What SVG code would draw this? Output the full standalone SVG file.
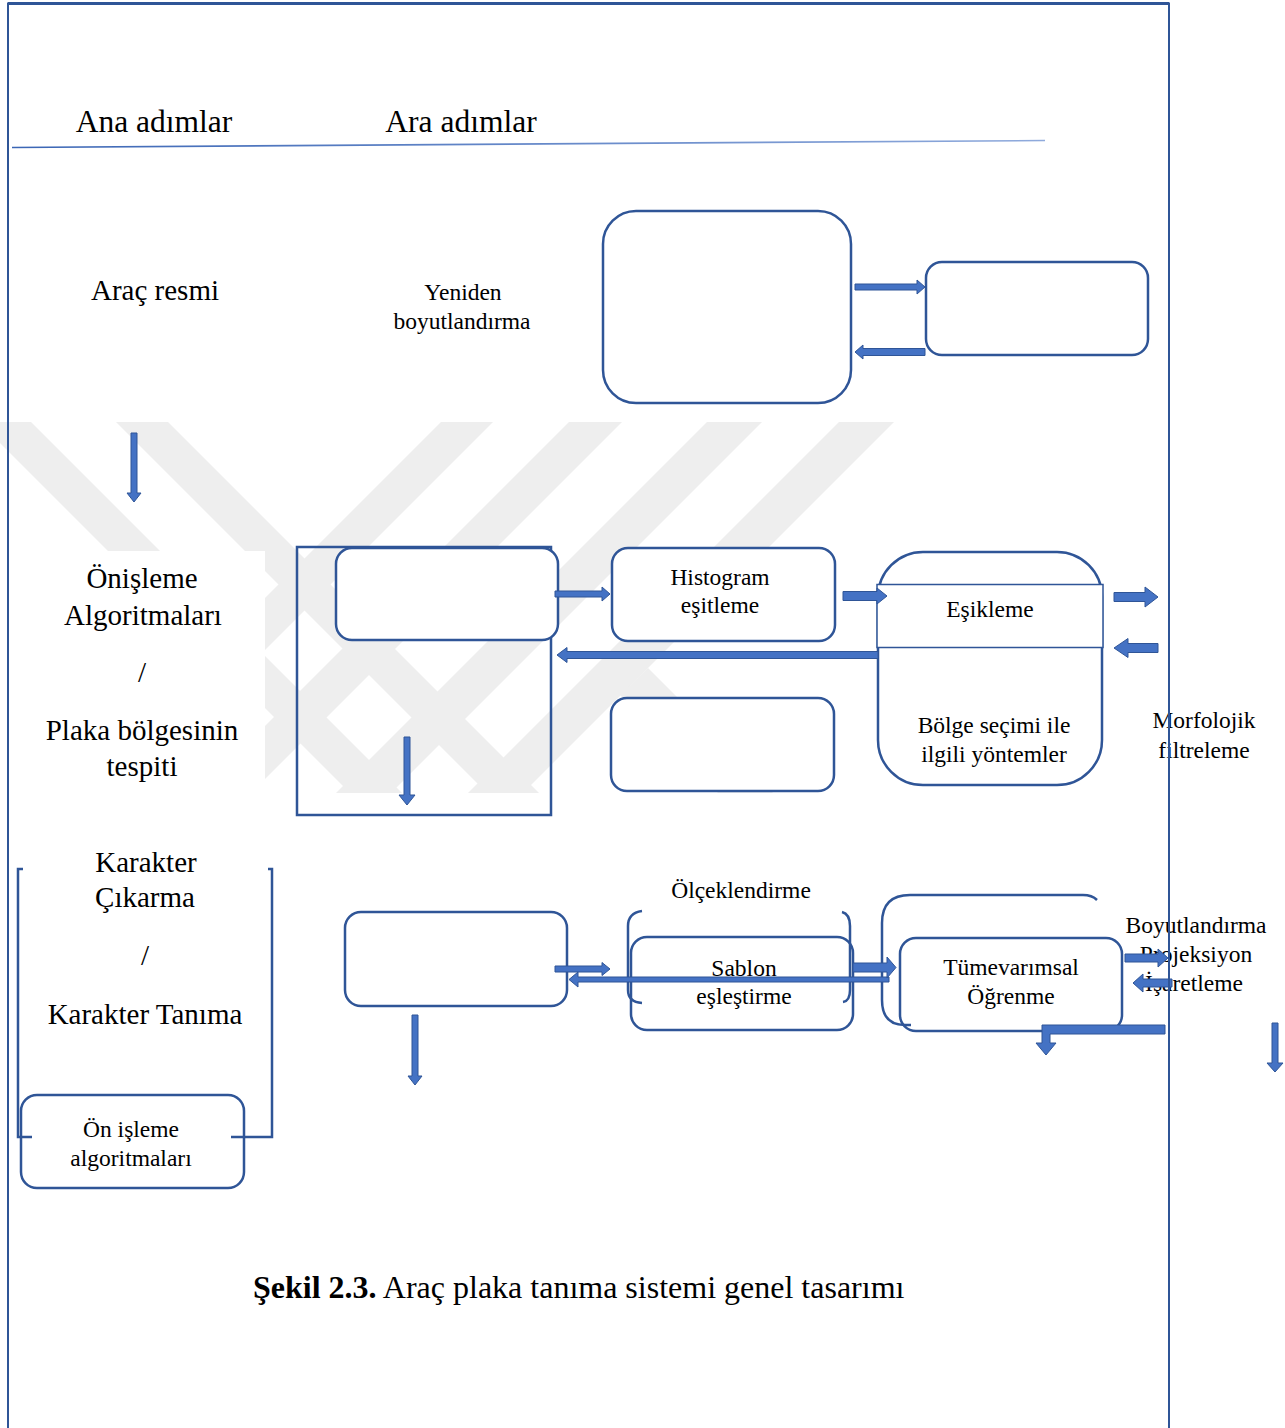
<svg xmlns="http://www.w3.org/2000/svg" width="1285" height="1428" viewBox="0 0 1285 1428">
  <defs>
    <linearGradient id="rule" x1="0" y1="0" x2="1" y2="0">
      <stop offset="0" stop-color="#3B66B5"/>
      <stop offset="1" stop-color="#8FAADC"/>
    </linearGradient>
  </defs>
  <style>
    .t{font-family:"Liberation Serif","Times New Roman",serif;fill:#000;text-anchor:middle}
    .hd{font-size:31.5px}
    .big{font-size:29px}
    .sm{font-size:23.5px}
    .box{fill:#fff;stroke:#2F5597;stroke-width:2.5}
    .ln{fill:none;stroke:#2F5597;stroke-width:2.5}
    .thin{fill:#fff;stroke:#2F5597;stroke-width:1.5}
    .arr{fill:#4472C4;stroke:#2F5597;stroke-width:1}
    .wm{fill:#eeeeee}
  </style>

  <rect x="0" y="0" width="1285" height="1428" fill="#fff"/>

  <!-- light background stripe mark -->
  <g id="stripes" class="wm">
    <polygon points="-21,422 31,422 402,793 350,793"/>
    <polygon points="116,422 168,422 539,793 487,793"/>
    <polygon points="441,422 493,422 122,793 70,793"/>
    <polygon points="569,422 622,422 251,793 198,793"/>
    <polygon points="707,422 762,422 391,793 336,793"/>
    <polygon points="839,422 894,422 523,793 468,793"/>
    <polygon points="648,668 773,793 718,793 620,695"/>
  </g>
  <rect x="10" y="551" width="255" height="242" fill="#fff"/>

  <!-- column headings -->
  <g id="headings">
    <text class="t hd" x="154" y="132">Ana adımlar</text>
    <text class="t hd" x="461" y="132">Ara adımlar</text>
    <line x1="12" y1="147.5" x2="1045" y2="140.5" stroke="url(#rule)" stroke-width="1.6"/>
  </g>

  <!-- main steps -->
  <g id="arac-resmi"><text class="t big" x="155" y="300">Araç resmi</text></g>
  <g id="onisleme">
    <text class="t big" x="142" y="588">Önişleme</text>
    <text class="t big" x="143" y="625">Algoritmaları</text>
    <text class="t big" x="142" y="682">/</text>
    <text class="t big" x="142" y="740">Plaka bölgesinin</text>
    <text class="t big" x="142" y="776">tespiti</text>
  </g>
  <g id="karakter">
    <text class="t big" x="146" y="872">Karakter</text>
    <text class="t big" x="145" y="907">Çıkarma</text>
    <text class="t big" x="145" y="965">/</text>
    <text class="t big" x="145" y="1024">Karakter Tanıma</text>
  </g>

  <!-- resize step -->
  <g id="yeniden-boyutlandirma">
    <text class="t sm" x="463" y="300">Yeniden</text>
    <text class="t sm" x="462" y="329">boyutlandırma</text>
  </g>
  <g id="resize-box"><rect class="box" x="603" y="211" width="248" height="192" rx="33"/></g>
  <g id="resize-side"><rect class="box" x="926" y="262" width="222" height="93" rx="16"/></g>

  <!-- plate detection steps -->
  <g id="plate-frame"><rect class="ln" x="297" y="547" width="254" height="268"/></g>
  <g id="plate-input"><rect class="box" x="336" y="548" width="222" height="92" rx="16"/></g>
  <g id="histogram">
    <rect class="box" x="612" y="548" width="223" height="93" rx="16"/>
    <text class="t sm" x="720" y="585">Histogram</text>
    <text class="t sm" x="720" y="613">eşitleme</text>
  </g>
  <g id="plate-empty"><rect class="box" x="611" y="698" width="223" height="93" rx="16"/></g>
  <g id="esikleme-bolge">
    <rect class="box" x="878" y="552" width="224" height="233" rx="45"/>
    <rect class="thin" x="877" y="584.5" width="226" height="63"/>
    <text class="t sm" x="990" y="617">Eşikleme</text>
    <text class="t sm" x="994" y="733">Bölge seçimi ile</text>
    <text class="t sm" x="994" y="762">ilgili yöntemler</text>
  </g>
  <g id="morfolojik">
    <text class="t sm" x="1204" y="728">Morfolojik</text>
    <text class="t sm" x="1204" y="758">filtreleme</text>
  </g>

  <!-- character steps -->
  <g id="on-isleme">
    <rect class="box" x="21" y="1095" width="223" height="93" rx="16"/>
    <text class="t sm" x="131" y="1137">Ön işleme</text>
    <text class="t sm" x="131" y="1166">algoritmaları</text>
  </g>
  <g id="karakter-bracket">
    <path class="ln" d="M23,869 L18,869 L18,1137 L32,1137"/>
    <path class="ln" d="M268,869 L272,869 L272,1137 L231,1137"/>
  </g>
  <g id="char-input"><rect class="box" x="345" y="912" width="222" height="94" rx="16"/></g>
  <g id="sablon">
    <rect class="box" x="631" y="937" width="222" height="93" rx="16"/>
    <text class="t sm" x="741" y="898">Ölçeklendirme</text>
    <path class="ln" stroke-width="2" d="M642,911 Q628,913 628,926 L628,990 Q628,1002 642,1003"/>
    <path class="ln" stroke-width="2" d="M842,912 Q850,914 850,926 L850,990 Q850,1001 843,1002"/>
    <text class="t sm" x="744" y="976">Sablon</text>
    <text class="t sm" x="744" y="1004">eşleştirme</text>
  </g>
  <g id="tumevarimsal">
    <rect class="box" x="900" y="938" width="222" height="93" rx="16"/>
    <path class="ln" d="M1097,900 Q1092,895 1083,895 L910,895 Q882,895 882,923 L882,1000 Q882,1025 905,1025 L911,1025"/>
    <text class="t sm" x="1011" y="975">Tümevarımsal</text>
    <text class="t sm" x="1011" y="1004">Öğrenme</text>
  </g>
  <g id="boyutlandirma">
    <text class="t sm" x="1196" y="933">Boyutlandırma</text>
    <text class="t sm" x="1196" y="962">Projeksiyon</text>
    <text class="t sm" x="1194" y="991">İşaretleme</text>
  </g>

  <!-- connectors -->
  <g id="connectors" class="arr">
    <path d="M855,284 L917,284 L917,280 L925,287 L917,294 L917,290 L855,290 Z"/>
    <path d="M925,348.5 L863,348.5 L863,345 L855,352 L863,359 L863,355.5 L925,355.5 Z"/>
    <path d="M131,433 L131,493 L127,493 L134,502 L141,493 L137,493 L137,433 Z"/>
    <path d="M555,591 L602,591 L602,587 L610,594 L602,601 L602,597 L555,597 Z"/>
    <path d="M843,591.5 L877,591.5 L877,588 L887,596 L877,604 L877,600.5 L843,600.5 Z"/>
    <path d="M878,651.5 L567,651.5 L567,647.5 L557,655 L567,662.5 L567,658.5 L878,658.5 Z"/>
    <path d="M1114,592.5 L1145,592.5 L1145,587 L1158,597 L1145,607 L1145,601.5 L1114,601.5 Z"/>
    <path d="M1158,643.5 L1128,643.5 L1128,638.5 L1114,648 L1128,657.5 L1128,652.5 L1158,652.5 Z"/>
    <path d="M404,737 L404,795 L399,795 L407,805 L415,795 L410,795 L410,737 Z"/>
    <path d="M555,966 L602,966 L602,962.5 L610,969 L602,975.5 L602,972 L555,972 Z"/>
    <path d="M889,977 L578,977 L578,972 L569,979.5 L578,987 L578,982 L889,982 Z"/>
    <path d="M853,963 L887,963 L887,957 L896,967.5 L887,978 L887,972 L853,972 Z"/>
    <path d="M1125,954 L1158,954 L1158,949 L1168,958 L1158,967 L1158,962 L1125,962 Z"/>
    <path d="M1172,979 L1143,979 L1143,974 L1133,983 L1143,992 L1143,987 L1172,987 Z"/>
    <path d="M1165,1025 L1042,1025 L1042,1043 L1036,1043 L1046,1055 L1056,1043 L1050,1043 L1050,1034 L1165,1034 Z"/>
    <path d="M412,1015 L412,1076 L408,1076 L415,1085 L422,1076 L418,1076 L418,1015 Z"/>
    <path d="M1272,1023 L1272,1063 L1267,1063 L1275,1072 L1283,1063 L1278,1063 L1278,1023 Z"/>
  </g>

  <!-- caption -->
  <g id="caption">
    <text class="t" style="text-anchor:start;font-size:32px" x="253" y="1298"><tspan font-weight="bold">Şekil 2.3.</tspan> Araç plaka tanıma sistemi genel tasarımı</text>
  </g>

  <!-- page frame -->
  <g id="page-frame">
    <path d="M8,1428 L8,3.5 L1169,3.5 L1169,1428" fill="none" stroke="#2F5597" stroke-width="2"/>
    <line x1="8" y1="3.5" x2="1169" y2="3.5" stroke="#2F5597" stroke-width="3"/>
  </g>
</svg>
